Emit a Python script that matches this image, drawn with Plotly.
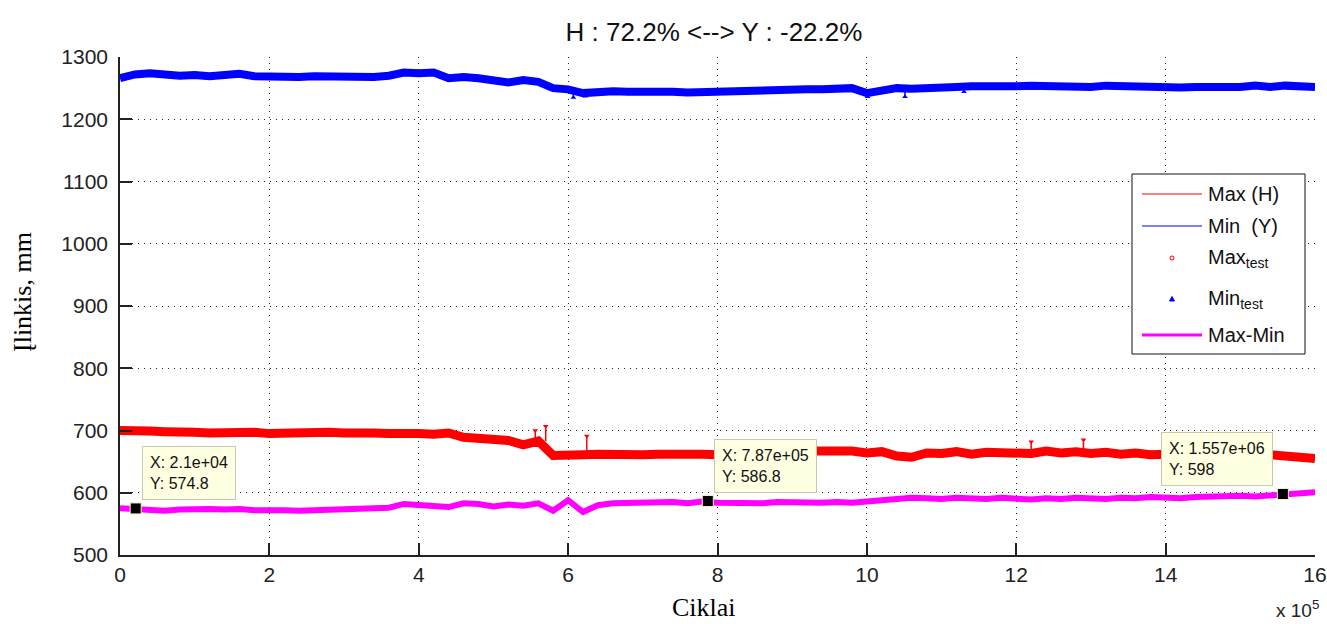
import plotly.graph_objects as go

# Logged cycle counts, in units of 1e5 cycles
cycles_e5 = [round(0.2 * i, 1) for i in range(81)]

# Upper deflection envelope, Max (H), mm
max_h = [700, 701, 699, 698, 696, 697, 696, 697, 696, 697,
         695, 696, 695, 696, 697, 696, 697, 696, 695, 696,
         695, 694, 696, 689, 688, 686, 684, 677, 683, 660,
         659, 661, 662, 661, 662, 661, 662, 663, 661, 662,
         661, 663, 662, 666, 668, 669, 667, 668, 666, 667,
         664, 666, 659, 657, 664, 663, 666, 662, 665, 664,
         666, 663, 667, 664, 666, 663, 665, 662, 664, 661,
         662, 659, 662, 661, 660, 663, 658, 661, 658, 656, 655]

# Lower deflection envelope, Min (Y), mm
min_y = [1266, 1272, 1274, 1271, 1270, 1271, 1269, 1271, 1273, 1269,
         1268, 1269, 1268, 1269, 1268, 1268, 1269, 1268, 1270, 1275,
         1274, 1275, 1266, 1268, 1266, 1262, 1259, 1263, 1260, 1250,
         1248, 1242, 1244, 1245, 1244, 1245, 1243, 1244, 1243, 1244,
         1243, 1246, 1247, 1246, 1248, 1247, 1248, 1248, 1249, 1250,
         1242, 1247, 1250, 1249, 1251, 1250, 1252, 1253, 1252, 1254,
         1253, 1254, 1253, 1254, 1253, 1252, 1254, 1253, 1252, 1251,
         1250, 1251, 1252, 1251, 1253, 1252, 1254, 1252, 1254, 1253, 1252]

# Range between the envelopes, Max-Min, mm
max_min = [575, 574, 572, 571, 573, 574, 574, 573, 574, 572,
           573, 572, 571, 572, 571, 572, 573, 574, 576, 582,
           581, 580, 577, 583, 582, 578, 581, 579, 583, 571,
           588, 569, 580, 583, 584, 585, 584, 585, 583, 586,
           584, 583, 584, 583, 585, 584, 585, 584, 585, 584,
           586, 588, 590, 592, 591, 590, 592, 591, 590, 592,
           591, 589, 591, 590, 592, 591, 590, 592, 591, 593,
           592, 591, 593, 594, 593, 595, 594, 596, 598, 599, 601]

# Single test readings (peaks above Max, dips below Min)
max_test_e5 = [5.56, 5.70, 6.25, 12.2, 12.9]
max_test = [700, 707, 691, 682, 685]
max_test_base = [683, 683, 661, 666, 664]

min_test_e5 = [6.07, 6.23, 7.46, 7.72, 10.01, 10.51, 11.3]
min_test = [1235, 1237, 1241, 1240, 1236, 1236, 1244]
min_test_base = [1244, 1244, 1245, 1244, 1244, 1249, 1251]

# Data cursors placed on the Max-Min curve
tip_x = [2.1e4, 7.87e5, 1.557e6]
tip_y = [574.8, 586.8, 598]

x_ticks_e5 = [0, 2, 4, 6, 8, 10, 12, 14, 16]
y_ticks = [500, 600, 700, 800, 900, 1000, 1100, 1200, 1300]

cycles = [c * 1e5 for c in cycles_e5]
max_test_x = [c * 1e5 for c in max_test_e5]
min_test_x = [c * 1e5 for c in min_test_e5]

RED, BLUE, MAG = "#ff0000", "#0000ff", "#ff00ff"
FONT = "Arial, Liberation Sans, sans-serif"
SERIF = "Liberation Serif, Times New Roman, serif"

# plot area geometry (px) used to place the boxed legend
W, H = 1327, 624
ML, MR, MT, MB = 120, 12, 57, 69
PW, PH = W - ML - MR, H - MT - MB


def px(xp):
    return (xp - ML) / PW


def py(yp):
    return (H - MB - yp) / PH


fig = go.Figure()

# measured curves
fig.add_trace(go.Scatter(x=cycles, y=max_min, mode="lines",
                         line=dict(color=MAG, width=6), hoverinfo="skip"))
fig.add_trace(go.Scatter(x=cycles, y=max_h, mode="lines",
                         line=dict(color=RED, width=9), hoverinfo="skip"))
fig.add_trace(go.Scatter(x=cycles, y=min_y, mode="lines",
                         line=dict(color=BLUE, width=8), hoverinfo="skip"))

# test readings with stems back to their curve
fig.add_trace(go.Scatter(
    x=max_test_x, y=max_test, mode="markers",
    marker=dict(symbol="triangle-down", size=5, color=RED),
    error_y=dict(type="data", symmetric=False,
                 array=[0] * len(max_test),
                 arrayminus=[t - b for t, b in zip(max_test, max_test_base)],
                 color=RED, thickness=1.5, width=0)))
fig.add_trace(go.Scatter(
    x=min_test_x, y=min_test, mode="markers",
    marker=dict(symbol="triangle-up", size=5, color=BLUE),
    error_y=dict(type="data", symmetric=False,
                 array=[b - t for t, b in zip(min_test, min_test_base)],
                 arrayminus=[0] * len(min_test),
                 color=BLUE, thickness=1.5, width=0)))

# data cursor markers
fig.add_trace(go.Scatter(x=tip_x, y=tip_y, mode="markers",
                         marker=dict(symbol="square", size=11, color="black",
                                     line=dict(color="#f0f0c8", width=1))))

annotations = []
for i, (tx, ty) in enumerate(zip(tip_x, tip_y)):
    last = i == len(tip_x) - 1
    annotations.append(dict(
        x=tx, y=ty, xref="x", yref="y",
        text="X: %s<br>Y: %s" % ("%.4g" % tx, "%.4g" % ty),
        showarrow=False, align="left",
        xanchor="right" if last else "left", yanchor="bottom",
        xshift=-10 if last else 6, yshift=8,
        font=dict(family=FONT, size=16, color="#111"),
        bgcolor="#ffffe1", bordercolor="#c8c8b0", borderwidth=1, borderpad=7,
    ))

annotations += [
    dict(x=0.5, y=0, xref="paper", yref="paper", text="Ciklai", showarrow=False,
         xanchor="center", yanchor="top", yshift=-36, xshift=-14,
         font=dict(family=SERIF, size=26, color="black")),
    dict(x=0, y=0.5, xref="paper", yref="paper", text="Įlinkis, mm", showarrow=False,
         textangle=-90, xanchor="center", yanchor="middle", xshift=-98, yshift=14,
         font=dict(family=SERIF, size=26, color="black")),
    dict(x=1, y=0, xref="paper", yref="paper", text="x 10<sup>5</sup>", showarrow=False,
         xanchor="right", yanchor="top", yshift=-40, xshift=6,
         font=dict(family=FONT, size=19, color="#222")),
]

# boxed legend
legend_rows = [
    ("Max (H)", 194, "line", RED, 1.2),
    ("Min\u00a0 (Y)", 226, "line", BLUE, 1.2),
    ("Max<sub>test</sub>", 258, "dot", RED, 0),
    ("Min<sub>test</sub>", 299, "tri", BLUE, 0),
    ("Max-Min", 335, "line", MAG, 3),
]
shapes = [dict(type="rect", xref="paper", yref="paper",
               x0=px(1132), x1=px(1305), y0=py(354), y1=py(174),
               line=dict(color="#111", width=1), fillcolor="white", layer="above")]
for label, ry, kind, col, lw in legend_rows:
    if kind == "line":
        shapes.append(dict(type="line", xref="paper", yref="paper",
                           x0=px(1142), x1=px(1202), y0=py(ry), y1=py(ry),
                           line=dict(color=col, width=lw), layer="above"))
    elif kind == "dot":
        shapes.append(dict(type="circle", xref="paper", yref="paper",
                           xsizemode="pixel", ysizemode="pixel",
                           xanchor=px(1172), yanchor=py(ry),
                           x0=-2, x1=2, y0=-2, y1=2,
                           line=dict(color=col, width=1), layer="above"))
    else:
        shapes.append(dict(type="path", xref="paper", yref="paper",
                           xsizemode="pixel", ysizemode="pixel",
                           xanchor=px(1172), yanchor=py(ry),
                           path="M-2.5,-2 L2.5,-2 L0,2.5 Z",
                           fillcolor=col, line=dict(color=col, width=1), layer="above"))
    annotations.append(dict(x=px(1206), y=py(ry),
                            xref="paper", yref="paper", text=label, showarrow=False,
                            xanchor="left", yanchor="middle",
                            font=dict(family=FONT, size=20, color="#111")))

fig.update_layout(
    width=W, height=H,
    margin=dict(l=ML, r=MR, t=MT, b=MB),
    paper_bgcolor="white", plot_bgcolor="white",
    title=dict(text="H : 72.2% &lt;--&gt; Y : -22.2%", x=714 / W, xanchor="center",
               y=1 - 32 / H, yanchor="middle", yref="container",
               font=dict(family=FONT, size=26, color="#111")),
    showlegend=False,
    annotations=annotations,
    shapes=shapes,
)

grid_common = dict(showgrid=True, gridcolor="#222", gridwidth=1, griddash="1px,5px",
                   showline=True, linecolor="#222", linewidth=1.5, mirror=False,
                   ticks="inside", ticklen=12, tickcolor="#222", tickwidth=1.5,
                   zeroline=False, automargin=False,
                   tickfont=dict(family=FONT, size=21, color="#222"))

fig.update_xaxes(range=[0, 16e5], tickvals=[t * 1e5 for t in x_ticks_e5],
                 ticktext=[str(t) for t in x_ticks_e5], ticklabelstandoff=0, **grid_common)
fig.update_yaxes(range=[500, 1300], tickvals=y_ticks,
                 ticktext=[str(t) for t in y_ticks], ticklabelstandoff=6, **grid_common)

fig.write_html("out.html")
